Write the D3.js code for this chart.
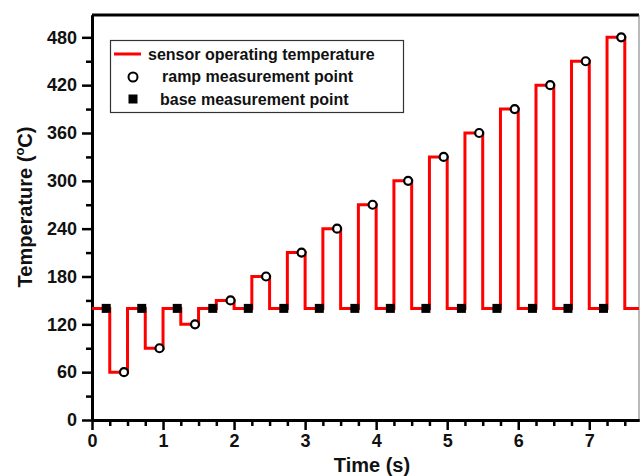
<!DOCTYPE html>
<html>
<head>
<meta charset="utf-8">
<script src="https://cdn.jsdelivr.net/npm/d3@7.9.0/dist/d3.min.js"></script>
<style>
  body { margin: 0; background: #fff; }
  svg text { font-family: "Liberation Sans", Arial, sans-serif; font-weight: bold; fill: #111; }
</style>
</head>
<body>
<svg id="chart" width="641" height="476"></svg>
<script>
// ====== DATA ======
const baseTemp = 140;
const rampStart = [0.25, 0.75, 1.25, 1.75, 2.25, 2.75, 3.25, 3.75, 4.25, 4.75, 5.25, 5.75, 6.25, 6.75, 7.25];
const rampEnd = [0.5, 1.0, 1.5, 2.0, 2.5, 3.0, 3.5, 4.0, 4.5, 5.0, 5.5, 6.0, 6.5, 7.0, 7.5];
const rampTemps = [60, 90, 120, 150, 180, 210, 240, 270, 300, 330, 360, 390, 420, 450, 480];
const rampPointTimes = [0.45, 0.95, 1.45, 1.95, 2.45, 2.95, 3.45, 3.95, 4.45, 4.95, 5.45, 5.95, 6.45, 6.95, 7.45];
const basePointTimes = [0.2, 0.7, 1.2, 1.7, 2.2, 2.7, 3.2, 3.7, 4.2, 4.7, 5.2, 5.7, 6.2, 6.7, 7.2];
const basePointTemps = [140, 140, 140, 140, 140, 140, 140, 140, 140, 140, 140, 140, 140, 140, 140];
const xMajorTicks = [0, 1, 2, 3, 4, 5, 6, 7];
const yMajorTicks = [0, 60, 120, 180, 240, 300, 360, 420, 480];
const legendLabels = ["sensor operating temperature", "ramp measurement point", "base measurement point"];

// ====== LAYOUT ======
const svg = d3.select("#chart");
const plotL = 92, plotR = 639, plotT = 15, plotB = 420;

const x = d3.scaleLinear().domain([0, 7.7]).range([plotL, plotR]);
const y = d3.scaleLinear().domain([0, 508]).range([plotB, plotT]);

// step path points
let steps = [[0, baseTemp]];
rampTemps.forEach((t, i) => {
  steps.push([rampStart[i], t]);
  steps.push([rampEnd[i], baseTemp]);
});
steps.push([7.7, baseTemp]);

// frame (top + right)
svg.append("line").attr("x1", plotL).attr("x2", plotR).attr("y1", plotT).attr("y2", plotT)
  .attr("stroke", "#000").attr("stroke-width", 3);
svg.append("line").attr("x1", plotR).attr("x2", plotR).attr("y1", plotT).attr("y2", plotB)
  .attr("stroke", "#777").attr("stroke-width", 1);

// ====== AXES ======
const xMinor = d3.range(0, 7.7, 0.25).filter(v => Math.abs(v - Math.round(v)) > 1e-6);
const yMinor = d3.range(30, 508, 60);

const xAxisMinor = svg.append("g").attr("transform", `translate(0,${plotB})`)
  .call(d3.axisBottom(x).tickValues(xMinor).tickSize(6).tickSizeOuter(0).tickFormat(""));
const xAxis = svg.append("g").attr("transform", `translate(0,${plotB})`)
  .call(d3.axisBottom(x).tickValues(xMajorTicks).tickSize(10).tickSizeOuter(0).tickPadding(4).tickFormat(d3.format("d")));
const yAxisMinor = svg.append("g").attr("transform", `translate(${plotL},0)`)
  .call(d3.axisLeft(y).tickValues(yMinor).tickSize(6).tickSizeOuter(0).tickFormat(""));
const yAxis = svg.append("g").attr("transform", `translate(${plotL},0)`)
  .call(d3.axisLeft(y).tickValues(yMajorTicks).tickSize(10).tickSizeOuter(0).tickPadding(5));

[xAxisMinor, xAxis, yAxisMinor, yAxis].forEach(g => {
  g.select(".domain").attr("stroke", "#000").attr("stroke-width", 3);
  g.selectAll(".tick line").attr("stroke", "#000").attr("stroke-width", 2.5);
  g.selectAll("text").attr("font-size", 18).attr("fill", "#111")
    .attr("font-family", "Liberation Sans, Arial, sans-serif").attr("font-weight", "bold");
});

// axis titles
svg.append("text").attr("x", 372).attr("y", 472).attr("text-anchor", "middle")
  .attr("font-size", 20).text("Time (s)");
const yTitle = svg.append("text").attr("transform", "translate(32,207) rotate(-90)")
  .attr("text-anchor", "middle").attr("font-size", 20);
yTitle.append("tspan").text("Temperature (");
yTitle.append("tspan").attr("font-size", 13).attr("dy", -8).text("o");
yTitle.append("tspan").attr("dy", 8).text("C)");

// ====== STEP LINE ======
const line = d3.line().x(d => x(d[0])).y(d => y(d[1])).curve(d3.curveStepAfter);
svg.append("path").datum(steps).attr("d", line)
  .attr("fill", "none").attr("stroke", "#ff0000").attr("stroke-width", 3);

// ====== MARKERS ======
svg.selectAll(".ramp").data(rampTemps).join("circle")
  .attr("class", "ramp")
  .attr("cx", (d, i) => x(rampPointTimes[i])).attr("cy", d => y(d)).attr("r", 4)
  .attr("fill", "#fff").attr("stroke", "#000").attr("stroke-width", 2.2);

svg.selectAll(".base").data(basePointTemps).join("rect")
  .attr("class", "base")
  .attr("x", (d, i) => x(basePointTimes[i]) - 4.5).attr("y", d => y(d) - 4.5)
  .attr("width", 9).attr("height", 9).attr("fill", "#000");

// ====== LEGEND ======
const legend = svg.append("g");
legend.append("rect").attr("x", 110.5).attr("y", 40.5).attr("width", 293).attr("height", 72)
  .attr("fill", "#fff").attr("stroke", "#333").attr("stroke-width", 1.2);
legend.append("line").attr("x1", 114).attr("x2", 141).attr("y1", 54).attr("y2", 54)
  .attr("stroke", "#ff0000").attr("stroke-width", 3);
legend.append("circle").attr("cx", 133).attr("cy", 77).attr("r", 4.5)
  .attr("fill", "#fff").attr("stroke", "#000").attr("stroke-width", 2);
legend.append("rect").attr("x", 128.5).attr("y", 94.5).attr("width", 9).attr("height", 9).attr("fill", "#000");
const legendX = [148, 162, 160];
const legendY = [59.5, 82, 104.5];
legendLabels.forEach((label, i) => {
  legend.append("text").attr("x", legendX[i]).attr("y", legendY[i])
    .attr("font-size", 16).text(label);
});
</script>
</body>
</html>
